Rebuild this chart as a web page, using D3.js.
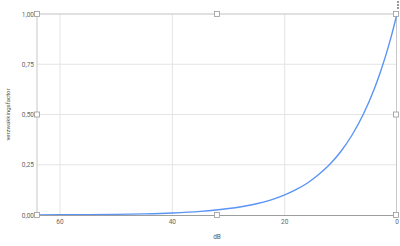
<!DOCTYPE html>
<html>
<head>
<meta charset="utf-8">
<script src="https://cdn.jsdelivr.net/npm/d3@7"></script>
<style>
body { margin: 0; background: #fff; }
svg { font-family: Roboto, Arial, sans-serif; }
</style>
</head>
<body>
<svg id="chart" width="400" height="246"></svg>
<script>
// dB (x axis, reversed) and attenuation factor (y axis)
var dbValues = [64, 60, 55, 50, 45, 40, 35, 30, 26, 22, 20, 18, 16, 14, 12, 10, 8, 6, 4, 3, 2, 1, 0];
var factorValues = [0.0006, 0.001, 0.0018, 0.0032, 0.0056, 0.01, 0.018, 0.032, 0.05, 0.079, 0.1, 0.126, 0.158, 0.2, 0.251, 0.316, 0.398, 0.501, 0.631, 0.708, 0.794, 0.891, 1.0];
var xTicks = [60, 40, 20, 0];
var yTicks = [0, 0.25, 0.5, 0.75, 1];

var svg = d3.select("#chart");
var pLeft = 37, pRight = 397, pTop = 14, pBottom = 215;

var xScale = d3.scaleLinear().domain([64.1, 0]).range([pLeft, pRight]);
var yScale = d3.scaleLinear().domain([0, 1]).range([pBottom, pTop]);

var fmt = function(v) { return d3.format(".2f")(v).replace(".", ","); };

// gridlines
svg.append("g").selectAll("line").data(xTicks.filter(d => d != 0))
    .enter().append("line")
    .attr("x1", d => xScale(d)).attr("x2", d => xScale(d))
    .attr("y1", pTop).attr("y2", pBottom)
    .style("stroke", "#e4e4e4");
svg.append("g").selectAll("line").data(yTicks.filter(d => d != 0))
    .enter().append("line")
    .attr("x1", pLeft).attr("x2", pRight)
    .attr("y1", d => yScale(d)).attr("y2", d => yScale(d))
    .style("stroke", d => d == 1 ? "#d6d6d6" : "#e4e4e4")
    .style("stroke-width", d => d == 1 ? 1.5 : 1);

// axis frame
svg.append("line").attr("x1", pLeft).attr("x2", pLeft).attr("y1", pTop).attr("y2", pBottom)
    .style("stroke", "#c8c8c8");
svg.append("line").attr("x1", pRight - 0.5).attr("x2", pRight - 0.5).attr("y1", pTop).attr("y2", pBottom)
    .style("stroke", "#c8c8c8");

// curve
var line = d3.line()
    .x((d, i) => xScale(dbValues[i]))
    .y(d => yScale(d))
    .curve(d3.curveMonotoneX);
svg.append("path").datum(factorValues)
    .attr("d", line)
    .style("fill", "none")
    .style("stroke", "#5a94f6")
    .style("stroke-width", 1.4);

svg.append("line").attr("x1", pLeft).attr("x2", pRight).attr("y1", pBottom + 0.5).attr("y2", pBottom + 0.5)
    .style("stroke", "#9e9e9e").style("stroke-width", 1.2);

// tick labels
svg.append("g").selectAll("text").data(yTicks)
    .enter().append("text")
    .attr("x", pLeft - 3).attr("y", d => yScale(d) + 2.5)
    .attr("text-anchor", "end")
    .style("font-size", "6.5px").style("fill", "#666")
    .text(fmt);
svg.append("g").selectAll("text").data(xTicks)
    .enter().append("text")
    .attr("x", d => xScale(d)).attr("y", pBottom + 9)
    .attr("text-anchor", "middle")
    .style("font-size", "6.5px").style("fill", "#666")
    .text(d => d);

// axis titles
svg.append("text").attr("x", (pLeft + pRight) / 2).attr("y", 239)
    .attr("text-anchor", "middle")
    .style("font-size", "6.5px").style("fill", "#555")
    .text("dB");
svg.append("text")
    .attr("transform", "translate(10," + ((pTop + pBottom) / 2) + ") rotate(-90)")
    .attr("text-anchor", "middle")
    .style("font-size", "6px").style("fill", "#555")
    .text("verzwakkingsfactor");

// selection handles
var hx = [pLeft, (pLeft + pRight) / 2, pRight - 1];
var hy = [pTop, (pTop + pBottom) / 2, pBottom];
var handles = [];
hx.forEach(x => hy.forEach(y => { if (!(x == hx[1] && y == hy[1])) handles.push([x, y]); }));
svg.append("g").selectAll("rect").data(handles)
    .enter().append("rect")
    .attr("x", d => d[0] - 2.5).attr("y", d => d[1] - 2.5)
    .attr("width", 5).attr("height", 5)
    .style("fill", "#fff").style("stroke", "#999").style("stroke-width", 0.8);

// menu dots
svg.append("g").selectAll("circle").data([2, 5, 8])
    .enter().append("circle")
    .attr("cx", 398).attr("cy", d => d).attr("r", 0.9)
    .style("fill", "#666");
</script>
</body>
</html>
